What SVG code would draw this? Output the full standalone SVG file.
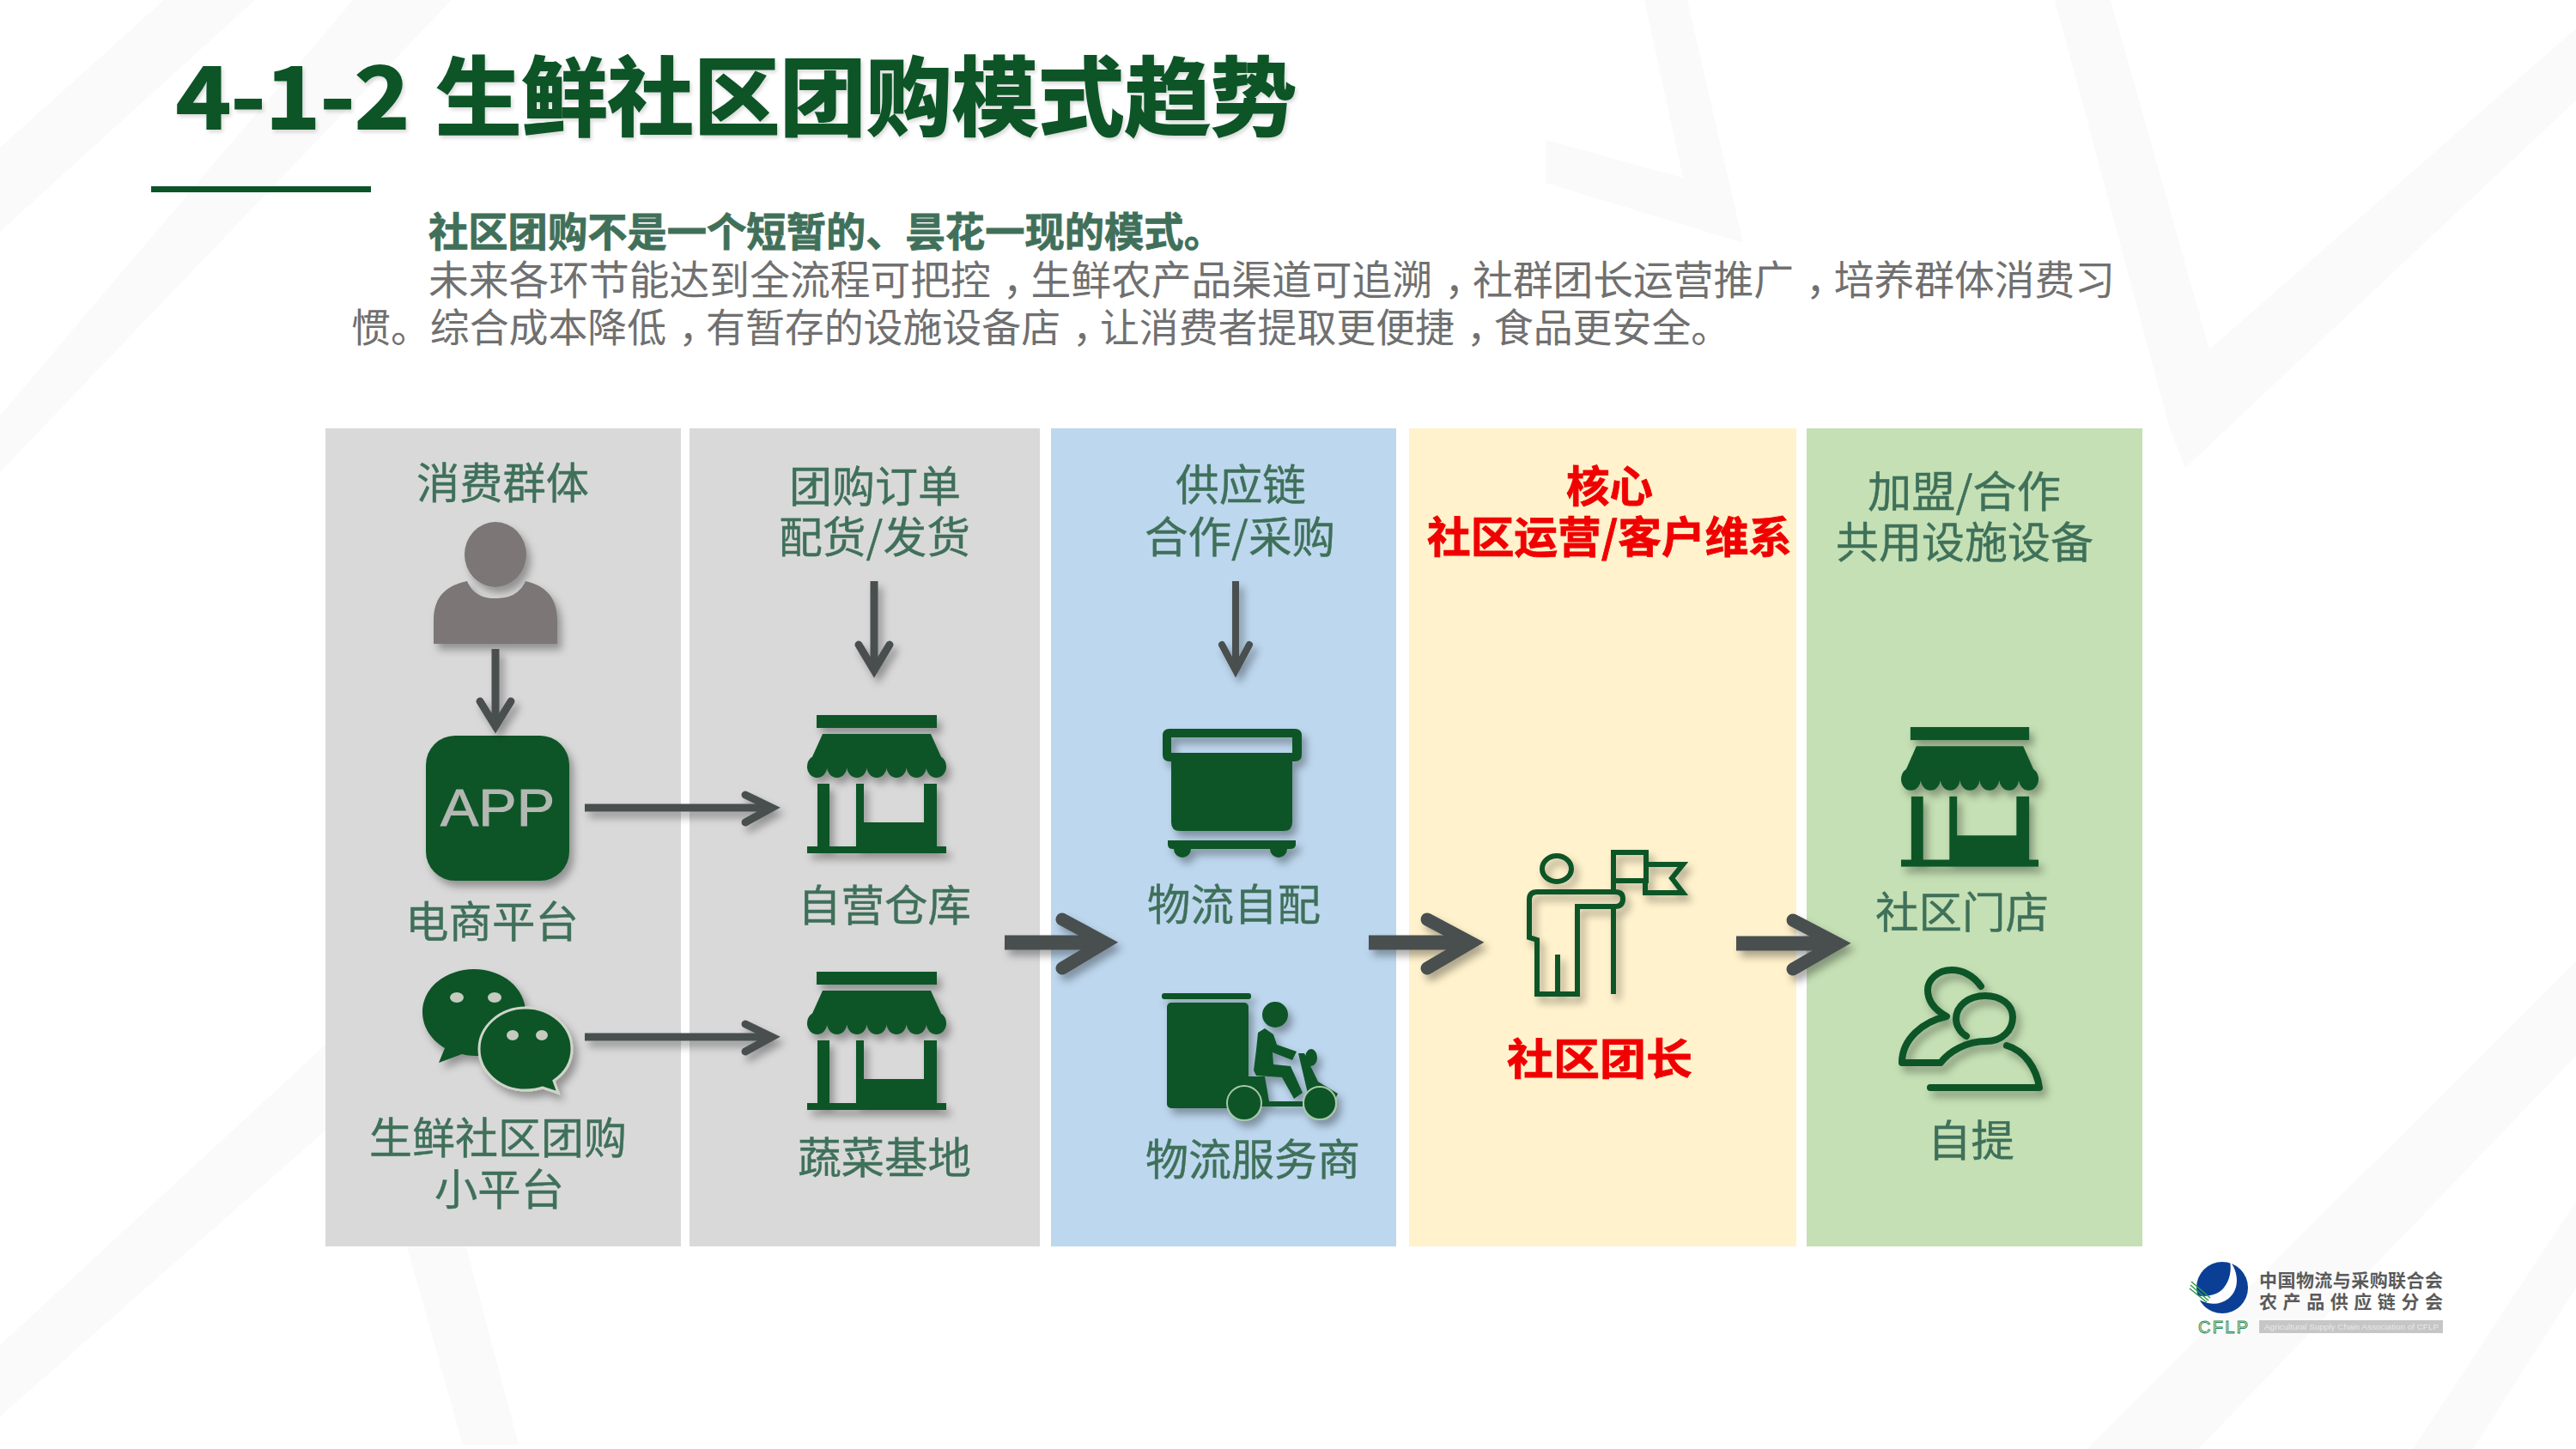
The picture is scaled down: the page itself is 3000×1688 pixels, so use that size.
<svg xmlns="http://www.w3.org/2000/svg" width="3000" height="1688" viewBox="0 0 3000 1688">
<style>
text{font-family:"Noto Sans CJK SC","Noto Sans",sans-serif}
.bg{fill:#fafafa}
.lbl{font-size:50px;fill:#3f705a;stroke:#3f705a;stroke-width:.4px}
.red{font-size:50px;fill:#f00000;font-weight:700;stroke:#f00000;stroke-width:.8px}
.body{fill:#707070}
.g{fill:#0a5427}
.ol{fill:none;stroke:#0a5427;stroke-width:6}
.shaft{fill:none;stroke:#484f50}
.head{fill:none;stroke:#484f50;stroke-linecap:round;stroke-linejoin:miter;stroke-miterlimit:10}
.ttl{font-size:100px;font-weight:700;fill:#0a5427;stroke:#0a5427;stroke-width:2px}
</style>
<defs>
<filter id="sh" x="-20%" y="-20%" width="145%" height="145%"><feDropShadow dx="5" dy="7" stdDeviation="5" flood-color="#000" flood-opacity=".33"/></filter>
<filter id="sht" x="-5%" y="-10%" width="110%" height="125%"><feDropShadow dx="2" dy="3" stdDeviation="2" flood-color="#000" flood-opacity=".15"/></filter>
<g id="store">
<rect class="g" x="11" y="0" width="140" height="15"/>
<path class="g" d="M18 22H144L162 62H0Z"/>
<g class="g"><ellipse cx="11.6" cy="60" rx="11.6" ry="13"/><ellipse cx="34.7" cy="60" rx="11.6" ry="13"/><ellipse cx="57.9" cy="60" rx="11.6" ry="13"/><ellipse cx="81" cy="60" rx="11.6" ry="13"/><ellipse cx="104.1" cy="60" rx="11.6" ry="13"/><ellipse cx="127.3" cy="60" rx="11.6" ry="13"/><ellipse cx="150.4" cy="60" rx="11.6" ry="13"/></g>
<rect class="g" x="12" y="80" width="14" height="74"/>
<path class="g" d="M57 80H66V125H136V80H151V154H57Z"/>
<rect class="g" x="0" y="153" width="162" height="8"/>
</g>
</defs>
<rect width="3000" height="1688" fill="#fff"/>
<g id="background">
<path class="bg" d="M191 0H297L0 270V172Z"/>
<path class="bg" d="M411 0H526L0 550V484Z"/>
<path class="bg" d="M2393 0H2458L2573 407L3000 33V117L2545 545L2527 500Z"/>
<path class="bg" d="M1915 0H1965L2030 283L1800 213V163L1960 207Z"/>
<path class="bg" d="M379 1217L700 900V1000L379 1317L0 1650V1567Z"/>
<path class="bg" d="M474 1453H543L604 1683H539Z"/>
<path class="bg" d="M3000 1120V1230L2560 1688H2430Z"/>
<path class="bg" d="M3000 1400V1500L2880 1688H2810Z"/>
</g>
<g id="title" filter="url(#sht)">
<text class="ttl" x="205" y="150" textLength="272" lengthAdjust="spacingAndGlyphs">4-1-2</text>
<text class="ttl" x="507" y="150" textLength="1003" lengthAdjust="spacingAndGlyphs">生鲜社区团购模式趋势</text>
</g>
<rect id="title-rule" class="g" x="176" y="217" width="256" height="7"/>
<g id="intro">
<text class="body" x="499" y="287" font-size="46.3" style="font-weight:700;fill:#41705a;stroke:#41705a;stroke-width:.8px">社区团购不是一个短暂的、昙花一现的模式。</text>
<text class="body" x="499" y="343" font-size="46.75" dx="0 0 0 0 0 0 0 0 0 0 0 0 0 0 14 -14 0 0 0 0 0 0 0 0 0 14 -14 0 0 0 0 0 0 0 14 -14">未来各环节能达到全流程可把控&#xFF0C;生鲜农产品渠道可追溯&#xFF0C;社群团长运营推广&#xFF0C;培养群体消费习</text>
<text class="body" x="409" y="398" font-size="45.9" dx="0 0 0 0 0 0 0 0 14 -14 0 0 0 0 0 0 0 0 14 -14 0 0 0 0 0 0 0 0 14 -14">惯。综合成本降低&#xFF0C;有暂存的设施设备店&#xFF0C;让消费者提取更便捷&#xFF0C;食品更安全。</text>
</g>
<g id="panels">
<rect x="379" y="499" width="414" height="953" fill="#d9d9d9"/>
<rect x="803" y="499" width="408" height="953" fill="#d9d9d9"/>
<rect x="1224" y="499" width="402" height="953" fill="#bdd7ee"/>
<rect x="1641" y="499" width="451" height="953" fill="#fff2cc"/>
<rect x="2104" y="499" width="391" height="953" fill="#c5e0b4"/>
</g>
<g id="node-consumers">
<text class="lbl" x="485" y="581" textLength="201" lengthAdjust="spacingAndGlyphs">消费群体</text>
<g filter="url(#sh)" fill="#7b7676"><ellipse cx="577" cy="646" rx="36" ry="38"/><path d="M505 750V722C505 695 520 682 544 677C552 695 566 697 577 697C590 697 604 694 612 677C634 682 649 695 649 722V750Z"/></g>
</g>
<g id="node-app">
<g filter="url(#sh)"><rect class="g" x="496" y="857" width="167" height="169" rx="34"/><text x="513" y="962" font-size="61" fill="#b4b8b2" stroke="#b4b8b2" stroke-width="1" style="font-family:'Liberation Sans',sans-serif" textLength="133" lengthAdjust="spacingAndGlyphs">APP</text></g>
<text class="lbl" x="472" y="1092" textLength="202" lengthAdjust="spacingAndGlyphs">电商平台</text>
</g>
<g id="node-wechat">
<g filter="url(#sh)">
<path class="g" d="M552 1129C519 1129 492 1151 492 1179C492 1197 503 1212 518 1221L511 1238L538 1228C545 1230 552 1230 559 1230C590 1230 612 1208 612 1179C612 1151 585 1129 552 1129Z"/>
<path class="g" stroke="#cfd4c8" stroke-width="3" d="M612 1174C582 1174 558 1196 558 1222C558 1248 582 1270 612 1270C619 1270 626 1269 632 1267L650 1273L645 1259C658 1250 666 1237 666 1222C666 1196 642 1174 612 1174Z"/>
</g>
<g fill="#c6cbbf"><ellipse cx="532" cy="1162" rx="8" ry="6"/><ellipse cx="576" cy="1162" rx="8" ry="6"/><ellipse cx="597" cy="1206" rx="7" ry="6"/><ellipse cx="631" cy="1206" rx="7" ry="6"/></g>
<text class="lbl" x="430" y="1344" textLength="300" lengthAdjust="spacingAndGlyphs">生鲜社区团购</text>
<text class="lbl" x="506" y="1404" textLength="151" lengthAdjust="spacingAndGlyphs">小平台</text>
</g>
<g id="node-order">
<text class="lbl" x="919" y="585" textLength="200" lengthAdjust="spacingAndGlyphs">团购订单</text>
<text class="lbl" x="907" y="644" textLength="223" lengthAdjust="spacingAndGlyphs">配货/发货</text>
</g>
<g id="node-warehouse">
<use href="#store" x="940" y="833" filter="url(#sh)"/>
<text class="lbl" x="929" y="1073" textLength="202" lengthAdjust="spacingAndGlyphs">自营仓库</text>
</g>
<g id="node-base">
<use href="#store" x="940" y="1132" filter="url(#sh)"/>
<text class="lbl" x="929" y="1367" textLength="202" lengthAdjust="spacingAndGlyphs">蔬菜基地</text>
</g>
<g id="node-supply">
<text class="lbl" x="1369" y="583" textLength="152" lengthAdjust="spacingAndGlyphs">供应链</text>
<text class="lbl" x="1333" y="644" textLength="222" lengthAdjust="spacingAndGlyphs">合作/采购</text>
</g>
<g id="node-selfdelivery">
<g filter="url(#sh)">
<path class="g" fill-rule="evenodd" d="M1362 849H1508Q1516 849 1516 857V879Q1516 887 1508 887H1505V958Q1505 968 1495 968H1374Q1364 968 1364 958V887H1362Q1354 887 1354 879V857Q1354 849 1362 849ZM1364 859V877H1505V859Z"/>
<path class="g" d="M1360 979H1509V984Q1509 989 1502 989H1499A10 10 0 0 1 1479 989H1387A10 10 0 0 1 1367 989H1366Q1360 989 1360 984Z"/>
</g>
<text class="lbl" x="1336" y="1072" textLength="202" lengthAdjust="spacingAndGlyphs">物流自配</text>
</g>
<g id="node-carrier">
<g filter="url(#sh)" class="g">
<rect x="1353" y="1157" width="104" height="7" rx="3"/>
<rect x="1359" y="1168" width="95" height="123" rx="5"/>
<circle cx="1485" cy="1182" r="15"/>
<path d="M1465 1203L1473 1198L1483 1205L1487 1217L1510 1225L1505 1235L1482 1226L1483 1240L1503 1242L1517 1273L1507 1280L1493 1255L1463 1253L1460 1247L1463 1223Z"/>
<path d="M1453 1254H1473L1478 1283H1517V1289H1455Z"/>
<path d="M1512 1227L1519 1227L1535 1260L1558 1274L1555 1280L1530 1272L1524 1278Z"/>
<ellipse cx="1527" cy="1232" rx="7" ry="10"/>
<circle cx="1449" cy="1285" r="20" stroke="#a9c8a8" stroke-width="2"/><circle cx="1537" cy="1285" r="19" stroke="#a9c8a8" stroke-width="2"/>
</g>
<text class="lbl" x="1334" y="1369" textLength="250" lengthAdjust="spacingAndGlyphs">物流服务商</text>
</g>
<g id="node-core">
<text class="red" x="1824" y="585" textLength="101" lengthAdjust="spacingAndGlyphs">核心</text>
<text class="red" x="1662" y="644" textLength="425" lengthAdjust="spacingAndGlyphs">社区运营/客户维系</text>
</g>
<g id="node-leader">
<g filter="url(#sh)">
<ellipse class="ol" cx="1813" cy="1012" rx="17" ry="15"/>
<path class="ol" d="M1879 1056V1158M1879 1039V993H1917V1026H1879"/>
<path class="ol" d="M1917 1007H1960L1947 1023L1960 1040H1916V1026"/>
<path class="ol" d="M1837 1158V1056H1881Q1890 1056 1890 1047Q1890 1039 1881 1039H1790Q1781 1039 1781 1048V1092L1790 1095V1158ZM1814 1112V1158"/>
</g>
<text class="red" x="1755" y="1252" textLength="216" lengthAdjust="spacingAndGlyphs">社区团长</text>
</g>
<g id="node-join">
<text class="lbl" x="2175" y="591" textLength="225" lengthAdjust="spacingAndGlyphs">加盟/合作</text>
<text class="lbl" x="2138" y="650" textLength="300" lengthAdjust="spacingAndGlyphs">共用设施设备</text>
</g>
<g id="node-store">
<use href="#store" transform="translate(2214 847) scale(.988 1.01)" filter="url(#sh)"/>
<text class="lbl" x="2184" y="1081" textLength="202" lengthAdjust="spacingAndGlyphs">社区门店</text>
</g>
<g id="node-pickup">
<g filter="url(#sh)" fill="none" stroke="#0a5427" stroke-width="8" stroke-linecap="round" stroke-linejoin="round">
<path d="M2307 1149C2298 1136 2285 1130 2273 1130C2256 1130 2245 1142 2245 1153C2245 1168 2256 1178 2267 1184C2240 1190 2215 1210 2215 1238H2260C2270 1225 2290 1213 2313 1213C2332 1213 2344 1200 2344 1185C2344 1170 2330 1160 2312 1160C2292 1160 2278 1172 2278 1187C2278 1195 2283 1203 2290 1207"/>
<path d="M2337 1218C2358 1224 2372 1245 2375 1267H2248"/>
</g>
<text class="lbl" x="2245" y="1347" textLength="101" lengthAdjust="spacingAndGlyphs">自提</text>
</g>
<g id="connectors">
<g filter="url(#sh)">
<path class="shaft" stroke-width="9" d="M577 756V844"/><path class="head" stroke-width="9" d="M559 817L577 846L595 817"/>
<path class="shaft" stroke-width="9" d="M1018 677V780"/><path class="head" stroke-width="9" d="M1000 751L1018 781L1036 751"/>
<path class="shaft" stroke-width="8" d="M1439 677V780"/><path class="head" stroke-width="8" d="M1423 751L1439 781L1455 751"/>
<path class="shaft" stroke-width="9" d="M681 941H897"/><path class="head" stroke-width="9" d="M868 926L899 941L868 958"/>
<path class="shaft" stroke-width="9" d="M681 1208H897"/><path class="head" stroke-width="9" d="M868 1193L899 1208L868 1225"/>
<path class="shaft" stroke-width="17" d="M1170 1098H1284"/><path class="head" stroke-width="15" d="M1237 1071L1287 1098L1237 1128"/>
<path class="shaft" stroke-width="17" d="M1594 1098H1710"/><path class="head" stroke-width="15" d="M1662 1071L1713 1098L1662 1128"/>
<path class="shaft" stroke-width="17" d="M2022 1099H2137"/><path class="head" stroke-width="15" d="M2088 1072L2140 1099L2088 1129"/>
</g>
</g>
<g id="logo">
<circle cx="2588" cy="1500" r="30" fill="#0b3f96"/>
<path fill="#fff" d="M2597 1469C2607 1482 2609 1502 2595 1513C2582 1523 2565 1519 2552 1508C2566 1512 2582 1510 2590 1500C2597 1491 2599 1480 2597 1469Z"/>
<g stroke="#2e9a4a" stroke-width="1.5" fill="none"><path d="M2551 1497L2572 1515M2550 1501L2570 1517M2552 1493L2574 1512"/></g>
<text x="2631" y="1499" font-size="21" font-weight="700" fill="#5a5a5a" textLength="214">中国物流与采购联合会</text>
<text x="2631" y="1524" font-size="21" font-weight="700" fill="#5a5a5a" textLength="214">农产品供应链分会</text>
<text x="2560" y="1553" font-size="20" fill="#fff" stroke="#2e8a50" stroke-width="1" textLength="58" style="font-family:'Liberation Sans',sans-serif">CFLP</text>
<rect x="2631" y="1538" width="214" height="15" fill="#c6c6c6"/>
<text x="2637" y="1549" font-size="9" fill="#e8e8e8" textLength="203" lengthAdjust="spacingAndGlyphs" style="font-family:'Liberation Sans',sans-serif">Agricultural Supply Chain Association of CFLP</text>
</g>
</svg>
